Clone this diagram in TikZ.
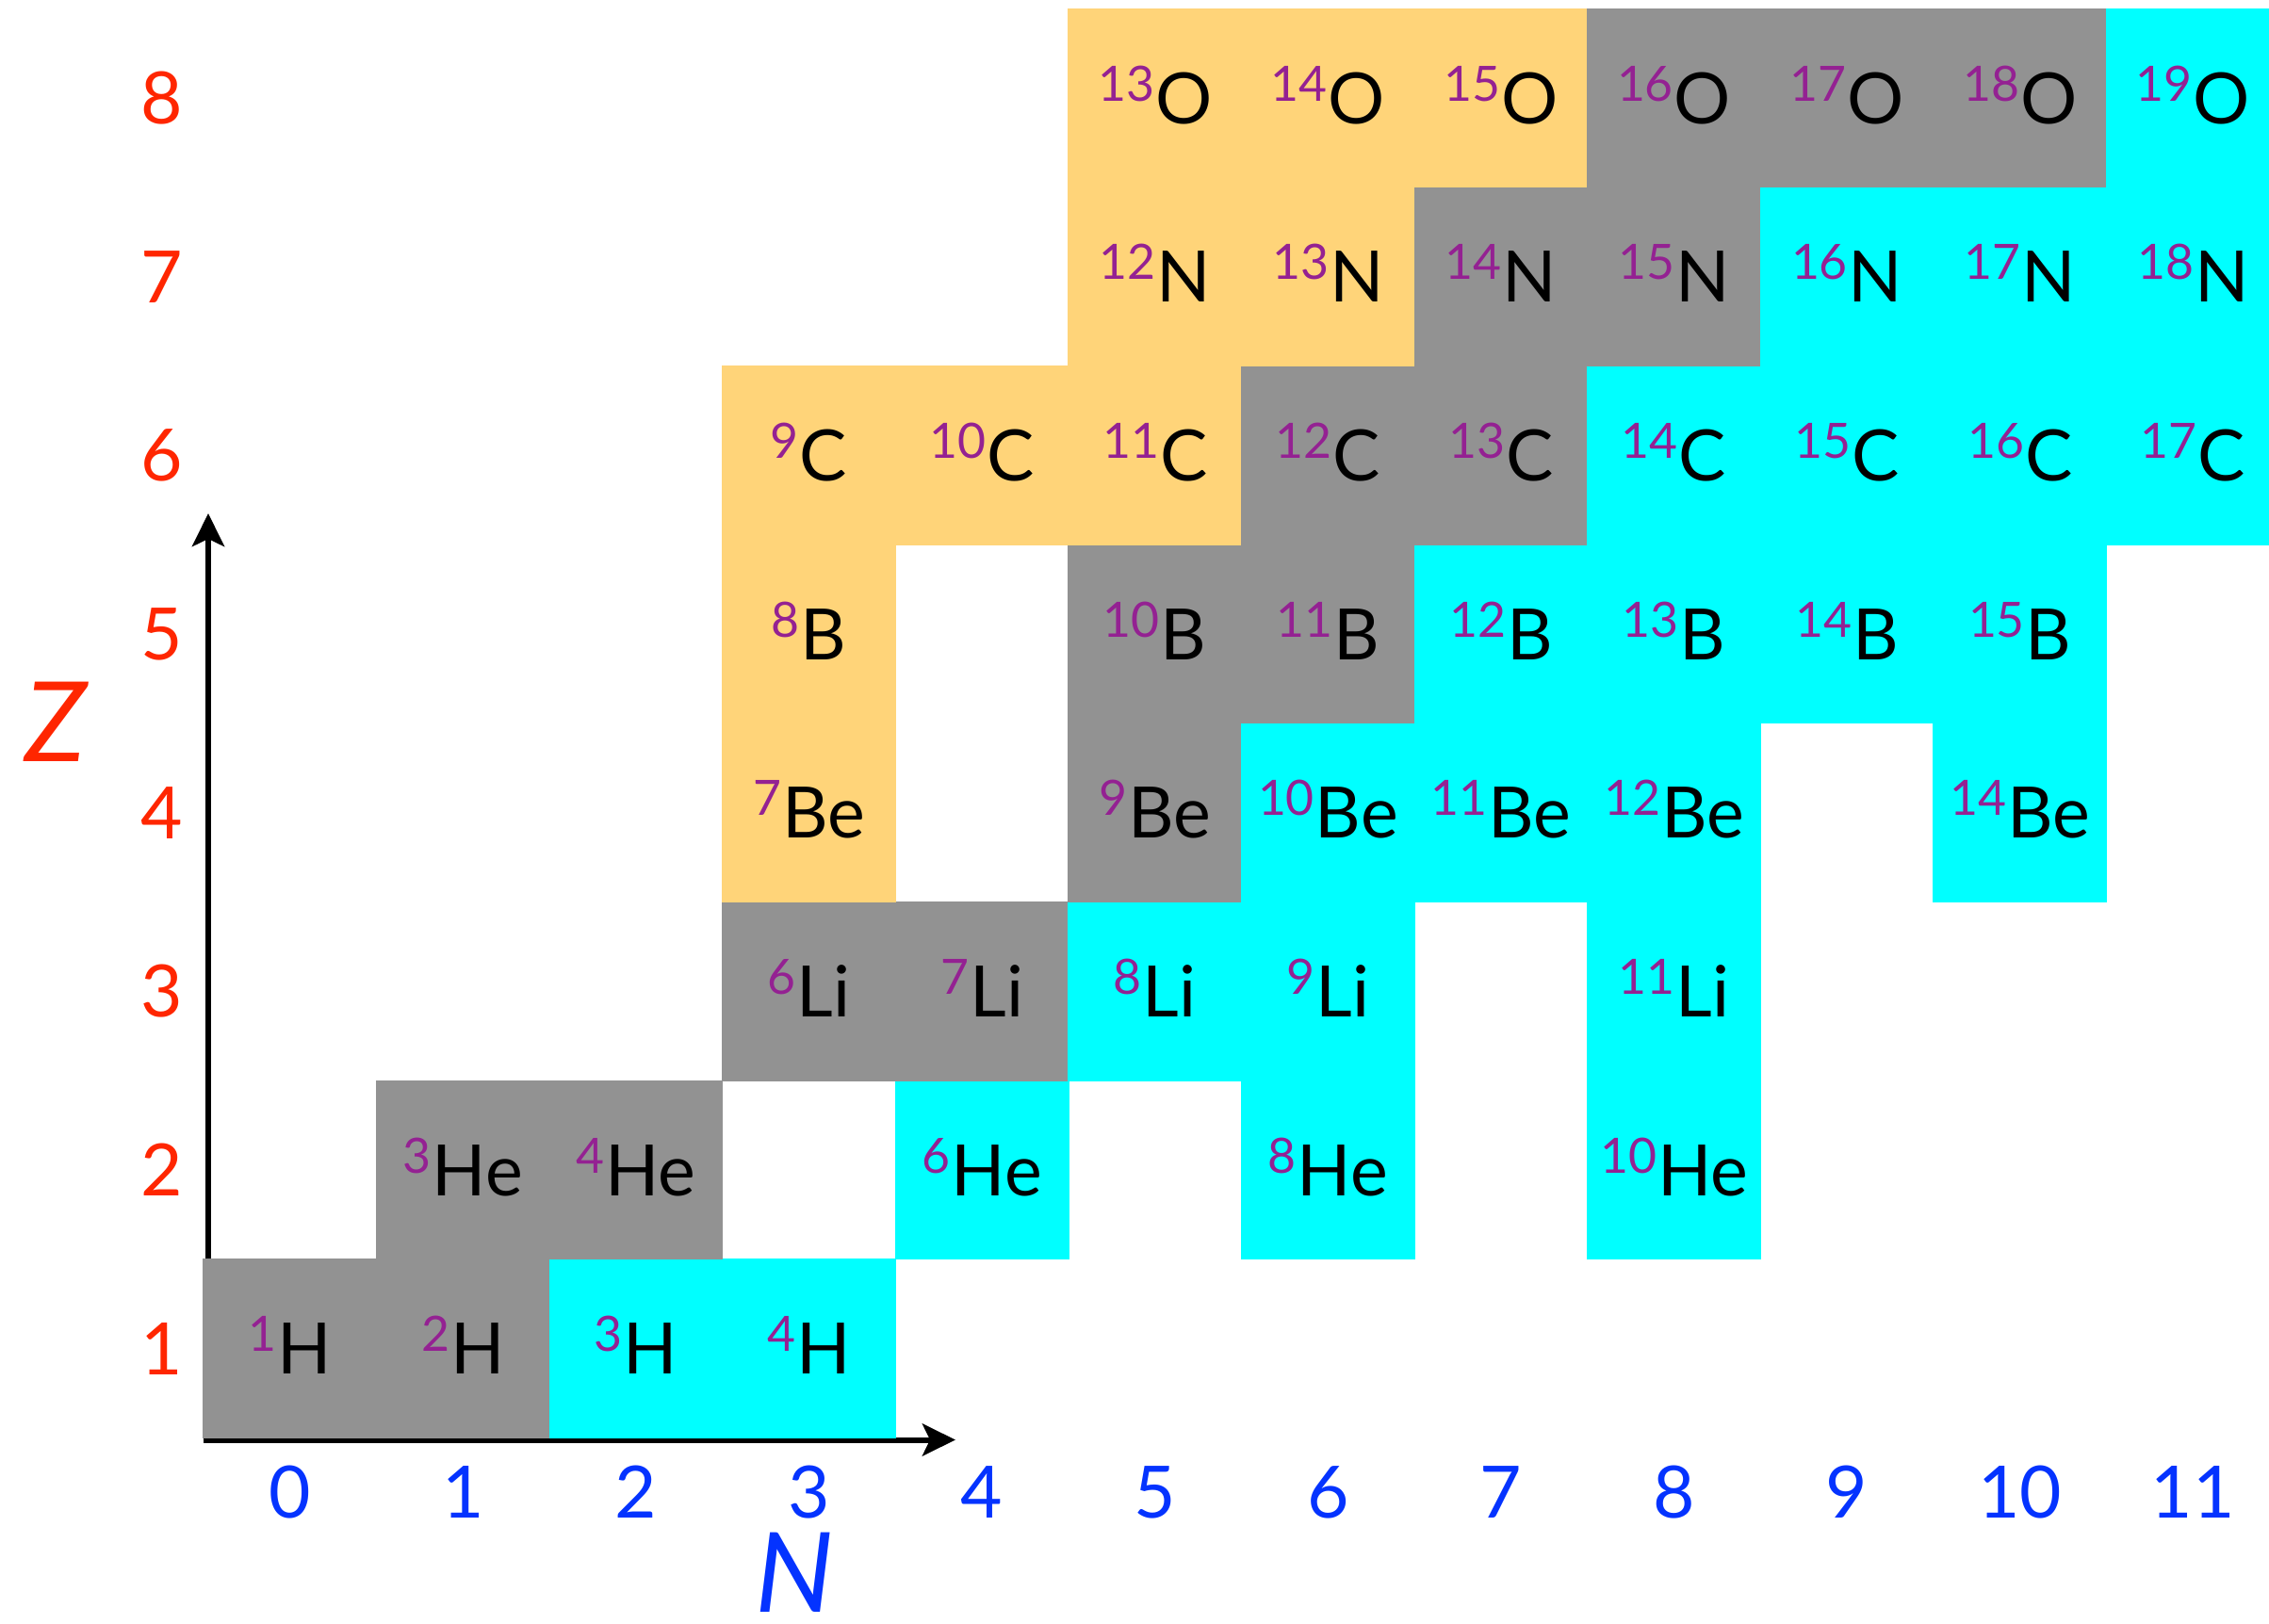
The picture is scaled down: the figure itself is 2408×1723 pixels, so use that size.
\documentclass[tikz,border=0pt]{standalone}
\usepackage{fontspec}
\setmainfont{Lato}
\usetikzlibrary{arrows.meta}
\definecolor{stab}{HTML}{929292}
\definecolor{prot}{HTML}{FFD479}
\definecolor{neut}{HTML}{00FFFF}
\definecolor{plum}{HTML}{942192}
\definecolor{zred}{HTML}{FF2600}
\definecolor{nblue}{HTML}{0433FF}
\newcommand{\isolab}[2]{\raisebox{0.24cm}{\fontsize{14.7}{15}\selectfont\color{plum}#1}\hspace{0.01cm}#2}
\begin{document}
\begin{tikzpicture}[x=0.01cm,y=0.01cm,
  cell/.style={rectangle, inner sep=0pt, outer sep=0pt, draw=#1, line width=0.3pt, fill=#1,
    minimum width=1.836cm, minimum height=1.8966cm, text height=0.54cm, text depth=0cm,
    font=\fontsize{21.4}{24}\selectfont, text=black},
  zlab/.style={inner sep=0pt, text=zred, text height=0.55cm, text depth=0cm, font=\fontsize{21.8}{24}\selectfont},
  nlab/.style={inner sep=0pt, text=nblue, text height=0.55cm, text depth=0cm, font=\fontsize{21.8}{24}\selectfont},
  axtitle/.style={inner sep=0pt, text height=0.85cm, text depth=0cm, font=\fontsize{33.5}{38}\selectfont\itshape},
  axis/.style={line width=0.06cm, black, -{Stealth[length=0.35cm,width=0.34cm,inset=0.08cm]}}]
\useasboundingbox (0,0) rectangle (2408,1723);
% axes
\coordinate (orig) at (221,194.5);
\coordinate (origh) at (216,194.5);
\coordinate (ztip) at (221,1178);
\coordinate (ntip) at (1014,194.5);
\draw[axis] (orig) -- (ztip);
\draw[axis] (origh) -- (ntip);
% cells
\foreach \n/\z/\m/\s/\c in {
 0/1/1/H/stab, 1/1/2/H/stab, 2/1/3/H/neut, 3/1/4/H/neut,
 1/2/3/He/stab, 2/2/4/He/stab, 4/2/6/He/neut, 6/2/8/He/neut, 8/2/10/He/neut,
 3/3/6/Li/stab, 4/3/7/Li/stab, 5/3/8/Li/neut, 6/3/9/Li/neut, 8/3/11/Li/neut,
 3/4/7/Be/prot, 5/4/9/Be/stab, 6/4/10/Be/neut, 7/4/11/Be/neut, 8/4/12/Be/neut, 10/4/14/Be/neut,
 3/5/8/B/prot, 5/5/10/B/stab, 6/5/11/B/stab, 7/5/12/B/neut, 8/5/13/B/neut, 9/5/14/B/neut, 10/5/15/B/neut,
 3/6/9/C/prot, 4/6/10/C/prot, 5/6/11/C/prot, 6/6/12/C/stab, 7/6/13/C/stab, 8/6/14/C/neut, 9/6/15/C/neut, 10/6/16/C/neut, 11/6/17/C/neut,
 5/7/12/N/prot, 6/7/13/N/prot, 7/7/14/N/stab, 8/7/15/N/stab, 9/7/16/N/neut, 10/7/17/N/neut, 11/7/18/N/neut,
 5/8/13/O/prot, 6/8/14/O/prot, 7/8/15/O/prot, 8/8/16/O/stab, 9/8/17/O/stab, 10/8/18/O/stab, 11/8/19/O/neut}
 \node[cell=\c] (i\m\s) at ({216+183.6*(\n+0.5)},{196.5+189.66*(\z-0.5)}) {\isolab{\m}{\s}};
% axis numbers
\foreach \z in {1,...,8}
 \node[zlab] (zl\z) at (172,{196.5+189.66*(\z-0.5)}) {\z};
\foreach \n in {0,...,11}
 \node[nlab] (nl\n) at ({216+183.6*(\n+0.5)},139) {\n};
% axis titles
\node[axtitle, text=zred] (ztitle) at (59,957) {Z};
\node[axtitle, text=nblue] (ntitle) at (843,54) {N};
\end{tikzpicture}
\end{document}
